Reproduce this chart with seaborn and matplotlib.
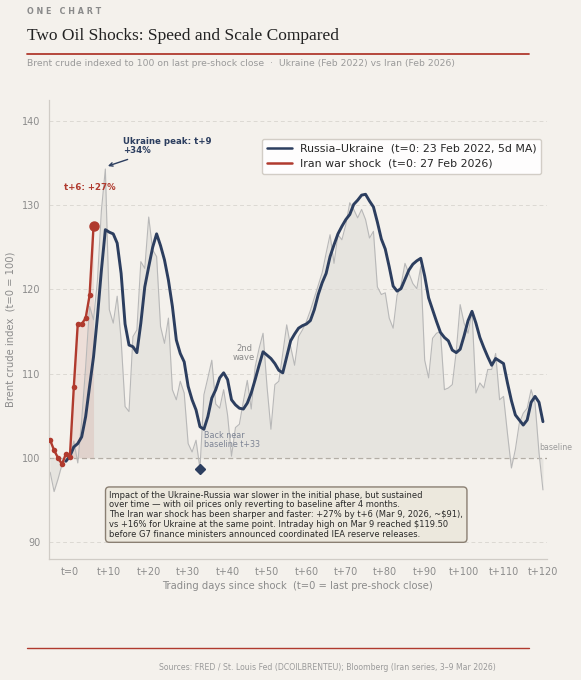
import numpy as np
import pandas as pd
import matplotlib.pyplot as plt
import seaborn as sns

# === Data ===
raw_days = list(range(-5, 121))
ukraine_raw = [
    98.3, 96.0, 97.5, 99.2, 99.8,                      # t-5 .. t-1
    100.0, 102.0, 99.4, 104.5, 110.8, 118.0, 116.4, 121.1, 129.4, 134.3,   # t0 .. t9
    117.6, 116.0, 119.2, 114.0, 106.1, 105.5, 114.4, 115.2, 123.3, 122.5,  # t10 .. t19
    128.6, 124.7, 123.9, 115.6, 113.6, 116.6, 108.1, 106.9, 109.1, 107.7,  # t20 .. t29
    101.7, 100.7, 102.1, 98.7, 107.5, 109.5, 111.6, 106.4, 105.9, 108.1,   # t30 .. t39
    105.1, 100.2, 103.6, 104.0, 106.7, 109.2, 105.8, 110.8, 113.0, 114.8,  # t40 .. t49
    108.5, 103.4, 108.7, 109.1, 112.4, 115.8, 113.2, 111.0, 114.4, 115.2,  # t50 .. t59
    116.2, 117.5, 119.0, 120.5, 122.0, 124.3, 126.5, 123.1, 126.5, 125.9,  # t60 .. t69
    127.7, 130.3, 129.5, 128.5, 129.5, 128.3, 126.1, 126.9, 120.3, 119.4,  # t70 .. t79
    119.6, 116.6, 115.4, 119.3, 120.5, 123.1, 121.9, 120.7, 120.1, 122.7,  # t80 .. t89
    111.6, 109.5, 114.2, 114.8, 115.0, 108.1, 108.3, 108.7, 112.6, 118.2,  # t90 .. t99
    116.0, 114.8, 117.4, 107.7, 108.9, 108.3, 110.5, 110.5, 112.4, 106.9,  # t100 .. t109
    107.3, 102.9, 98.8, 101.0, 104.1, 105.3, 105.9, 108.1, 106.5, 100.6,   # t110 .. t119
    96.2,                                              # t120
]

ma_days = list(range(-1, 121))
ukraine_ma = [
    99.6,
    100.2, 101.3, 101.7, 102.5, 104.9, 108.5, 112.0, 116.8, 122.3, 127.1,
    126.8, 126.6, 125.5, 121.9, 115.9, 113.4, 113.2, 112.5, 116.0, 120.3,
    122.7, 125.0, 126.6, 125.2, 123.5, 121.1, 118.0, 114.0, 112.4, 111.4,
    108.5, 106.9, 105.7, 103.7, 103.4, 104.9, 107.1, 108.1, 109.5, 110.1,
    109.3, 106.9, 106.3, 105.9, 105.8, 106.5, 107.7, 109.3, 111.0, 112.6,
    112.2, 111.8, 111.2, 110.4, 110.1, 112.0, 113.9, 114.7, 115.4, 115.7,
    115.9, 116.3, 117.6, 119.4, 120.8, 121.9, 123.9, 125.3, 126.6, 127.5,
    128.3, 128.9, 130.1, 130.6, 131.2, 131.3, 130.5, 129.8, 128.0, 126.0,
    124.8, 122.7, 120.4, 119.8, 120.1, 121.2, 122.3, 123.0, 123.4, 123.7,
    121.6, 119.0, 117.6, 116.2, 114.9, 114.3, 113.9, 112.8, 112.5, 112.9,
    114.5, 116.3, 117.4, 116.0, 114.3, 113.1, 112.0, 111.0, 111.8, 111.5,
    111.2, 108.9, 106.8, 105.1, 104.5, 103.9, 104.5, 106.6, 107.3, 106.6,
    104.3,
]

iran_days = list(range(-5, 7))
iran_vals = [102.1, 100.9, 100.0, 99.25, 100.5, 100.1, 108.4, 115.9, 115.9, 116.6, 119.3, 127.5]

y_ticks = [90, 100, 110, 120, 130, 140]
x_ticks = list(range(0, 121, 10))
x_labels = ["t=0"] + [f"t+{d}" for d in x_ticks[1:]]

raw_df = pd.DataFrame({"t": raw_days, "index": ukraine_raw})
ma_df = pd.DataFrame({"t": ma_days, "index": ukraine_ma})
iran_df = pd.DataFrame({"t": iran_days, "index": iran_vals})

# === Style ===
BG = "#f4f1ec"
NAVY = "#2c3e5f"
RED = "#b03a2e"
GREY_TXT = "#8c8c8c"

sns.set_theme(style="white")
plt.rcParams["font.family"] = ["DejaVu Sans"]
plt.rcParams["figure.facecolor"] = BG
plt.rcParams["axes.facecolor"] = BG

fig = plt.figure(figsize=(5.81, 6.8), dpi=100)
ax = fig.add_axes([0.0843, 0.178, 0.857, 0.675])

# grid + baseline
for yv in y_ticks:
    if yv == 100:
        continue
    ax.axhline(yv, color="#dcd9d3", lw=0.7, ls=(0, (4, 3)), zorder=0)
ax.axhline(100, color="#a8a29a", lw=0.9, ls=(0, (4, 2.5)), zorder=1)

# raw daily Ukraine series + fill
ax.fill_between(raw_df["t"], raw_df["index"], 100, color="#dcdad6", alpha=0.55, lw=0, zorder=1)
sns.lineplot(data=raw_df, x="t", y="index", ax=ax, color="#b8b8b8", lw=0.8, zorder=2, legend=False)

# Iran shading (t>=0)
post = iran_df[iran_df["t"] >= 0]
ax.fill_between(post["t"], post["index"], 100, color=RED, alpha=0.10, lw=0, zorder=1)

sns.lineplot(data=ma_df, x="t", y="index", ax=ax, color=NAVY, lw=2.1, zorder=4,
             label="Russia–Ukraine  (t=0: 23 Feb 2022, 5d MA)")
sns.lineplot(data=iran_df, x="t", y="index", ax=ax, color=RED, lw=1.7, zorder=5,
             marker="o", markersize=4, markeredgewidth=0,
             label="Iran war shock  (t=0: 27 Feb 2026)")
last = iran_df.iloc[-1]
ax.plot(last["t"], last["index"], "o", color=RED, markersize=6.5, zorder=6)

# diamond at t+33
ax.plot(33, ukraine_raw[raw_days.index(33)], "D", color=NAVY, markersize=5.5, zorder=6)

# axes formatting
ax.set_xlim(-5.3, 121)
ax.set_ylim(88, 142.5)
ax.set_xticks(x_ticks)
ax.set_xticklabels(x_labels)
ax.set_yticks(y_ticks)
ax.tick_params(axis="both", colors="#555555", labelcolor=GREY_TXT, labelsize=7,
               length=3, width=1, direction="out", pad=3)
for s in ["top", "right"]:
    ax.spines[s].set_visible(False)
for s in ["left", "bottom"]:
    ax.spines[s].set_color("#d0ccc6")
    ax.spines[s].set_linewidth(0.9)
ax.set_xlabel("Trading days since shock  (t=0 = last pre-shock close)", color=GREY_TXT, fontsize=7.2, labelpad=3)
ax.set_ylabel("Brent crude index  (t=0 = 100)", color=GREY_TXT, fontsize=7.2, labelpad=5)

leg = ax.legend(loc="upper right", bbox_to_anchor=(1.0, 0.927), fontsize=7.9,
                frameon=True, facecolor="white", edgecolor="#cfcac2", framealpha=0.92,
                handlelength=2.3, borderpad=0.45, labelspacing=0.45, handletextpad=0.7)
for h in leg.get_lines():
    h.set_linewidth(1.8)
    h.set_marker("")

# annotations
ax.annotate("Ukraine peak: t+9\n+34%", xy=(9.3, 134.6), xytext=(13.4, 137.0),
            fontsize=6.2, fontweight="bold", color=NAVY, va="center", ha="left",
            linespacing=1.0,
            arrowprops=dict(arrowstyle="->", color=NAVY, lw=1.0, shrinkA=2, shrinkB=1))
ax.text(-1.5, 132.1, "t+6: +27%", fontsize=6.2, fontweight="bold", color=RED, va="center", ha="left")
ax.text(44.2, 112.5, "2nd\nwave", fontsize=6.0, color="#8a8a8a", ha="center", va="center", linespacing=1.0)
ax.text(34.0, 102.1, "Back near\nbaseline t+33", fontsize=5.8, color="#7d8494", ha="left", va="center",
        linespacing=1.05)
ax.text(119.0, 101.2, "baseline", fontsize=5.7, color="#9a9a9a", ha="left", va="center", clip_on=False)

note = ("Impact of the Ukraine-Russia war slower in the initial phase, but sustained\n"
        "over time — with oil prices only reverting to baseline after 4 months.\n"
        "The Iran war shock has been sharper and faster: +27% by t+6 (Mar 9, 2026, ~$91),\n"
        "vs +16% for Ukraine at the same point. Intraday high on Mar 9 reached $119.50\n"
        "before G7 finance ministers announced coordinated IEA reserve releases.")
ax.text(10.0, 96.1, note, fontsize=6.05, color="#2a2a2a", ha="left", va="top", linespacing=1.1,
        zorder=7,
        bbox=dict(boxstyle="round,pad=0.45,rounding_size=0.45", facecolor="#ece8dd",
                  edgecolor="#8a7f72", lw=1.0))

# header / footer
fig.text(27 / 581, 1 - 12 / 680, "O N E   C H A R T", fontsize=5.8, fontweight="bold",
         color="#8a8a8a", ha="left", va="center")
fig.text(27 / 581, 1 - 36 / 680, "Two Oil Shocks: Speed and Scale Compared", fontsize=12.5,
         family="Liberation Serif", color="#222222", ha="left", va="center")
fig.add_artist(plt.Line2D([27 / 581, 529 / 581], [1 - 54 / 680, 1 - 54 / 680],
                          color=RED, lw=1.3, transform=fig.transFigure))
fig.text(27 / 581, 1 - 63.5 / 680,
         "Brent crude indexed to 100 on last pre-shock close  ·  Ukraine (Feb 2022) vs Iran (Feb 2026)",
         fontsize=6.7, color="#9a9a9a", ha="left", va="center")
fig.add_artist(plt.Line2D([27 / 581, 529 / 581], [1 - 648 / 680, 1 - 648 / 680],
                          color=RED, lw=1.0, transform=fig.transFigure))
fig.text(327 / 581, 1 - 667 / 680,
         "Sources: FRED / St. Louis Fed (DCOILBRENTEU); Bloomberg (Iran series, 3–9 Mar 2026)",
         fontsize=5.6, color="#9a9a9a", ha="center", va="center")

fig.savefig("out.png", dpi=100, facecolor=BG)
